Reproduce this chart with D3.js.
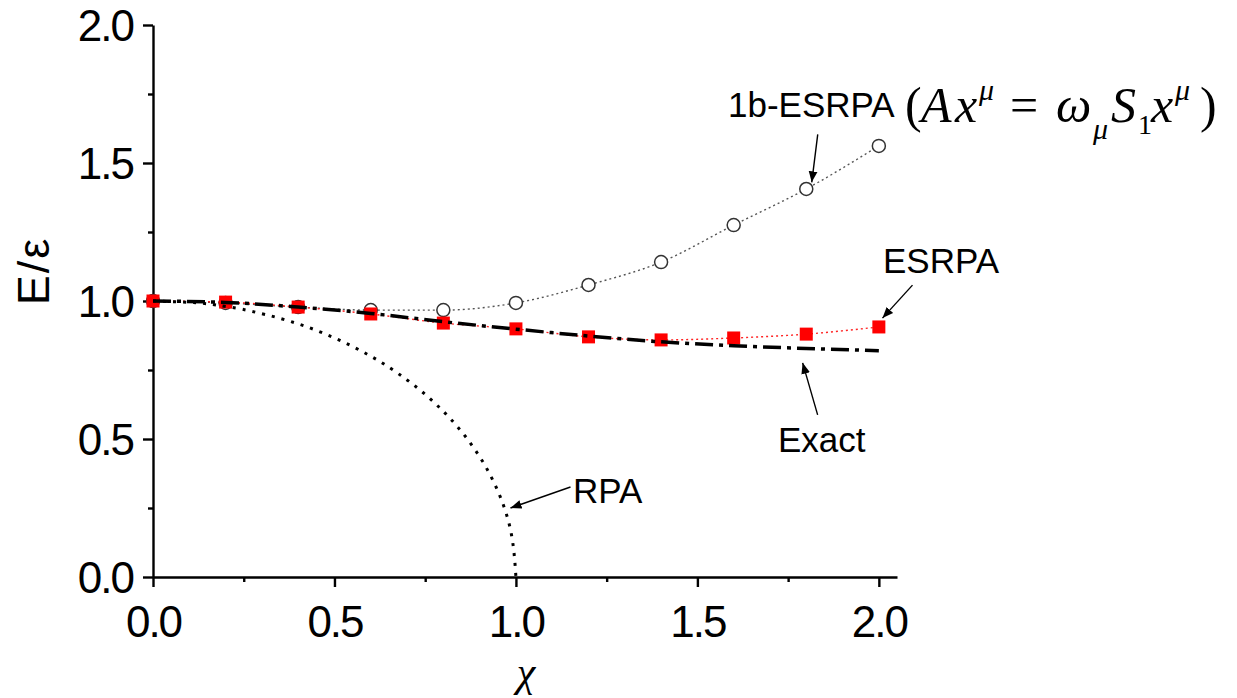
<!DOCTYPE html>
<html>
<head>
<meta charset="utf-8">
<script src="https://cdn.jsdelivr.net/npm/d3@7"></script>
<style>
  body { margin: 0; background: #fff; }
  svg { display: block; }
</style>
</head>
<body>
<div id="chart"></div>
<script>
var chiValues = [0, 0.2, 0.4, 0.6, 0.8, 1.0, 1.2, 1.4, 1.6, 1.8, 2.0];
var esrpaValues = [1.0, 0.996, 0.978, 0.953, 0.920, 0.899, 0.870, 0.859, 0.866, 0.880, 0.906];
var oneBodyValues = [1.0, 0.993, 0.978, 0.967, 0.967, 0.993, 1.058, 1.141, 1.275, 1.406, 1.562];
var exactValues = [1.0, 0.995, 0.978, 0.955, 0.925, 0.898, 0.873, 0.852, 0.838, 0.828, 0.820];
var rpaChi = [0, 0.1, 0.2, 0.3, 0.4, 0.5, 0.6, 0.7, 0.8, 0.85, 0.9, 0.95, 0.98, 1.0];
var rpaValues = [1.0, 0.995, 0.98, 0.954, 0.917, 0.866, 0.80, 0.714, 0.60, 0.527, 0.436, 0.312, 0.199, 0.0];
var xTicks = [0, 0.5, 1.0, 1.5, 2.0];
var xMinor = [0.25, 0.75, 1.25, 1.75];
var yTicks = [0, 0.5, 1.0, 1.5, 2.0];
var yMinor = [0.25, 0.75, 1.25, 1.75];

var width = 1237, height = 698;

var svg = d3.select("#chart").append("svg")
    .attr("width", width)
    .attr("height", height);

var x = d3.scaleLinear().domain([0, 2.05]).range([153, 897]);
var y = d3.scaleLinear().domain([0, 2.0]).range([577, 25]);

var sans = "'Liberation Sans', Arial, sans-serif";
var serif = "'Liberation Serif', 'Times New Roman', serif";

// axes
var xAxis = svg.append("g")
    .attr("transform", "translate(0," + y(0) + ")")
    .call(d3.axisBottom(x).tickValues(xTicks).tickSize(10).tickSizeOuter(0)
        .tickFormat(d3.format(".1f")));
svg.append("g")
    .attr("transform", "translate(0," + y(0) + ")")
    .call(d3.axisBottom(x).tickValues(xMinor).tickSize(5).tickSizeOuter(0).tickFormat(""))
    .select(".domain").remove();

var yAxis = svg.append("g")
    .attr("transform", "translate(" + x(0) + ",0)")
    .call(d3.axisLeft(y).tickValues(yTicks).tickSize(10).tickSizeOuter(0)
        .tickFormat(d3.format(".1f")));
svg.append("g")
    .attr("transform", "translate(" + x(0) + ",0)")
    .call(d3.axisLeft(y).tickValues(yMinor).tickSize(5).tickSizeOuter(0).tickFormat(""))
    .select(".domain").remove();

svg.selectAll(".domain, .tick line")
    .attr("stroke", "#000")
    .attr("stroke-width", 2.4);

xAxis.selectAll(".tick text")
    .attr("y", 0).attr("dy", 0)
    .attr("transform", "translate(0,60)")
    .style("font-family", sans).style("font-size", "44px")
    .style("letter-spacing", "-2px").attr("fill", "#000");
yAxis.selectAll(".tick text")
    .attr("x", -20).attr("dy", "0.36em")
    .style("font-family", sans).style("font-size", "44px")
    .style("letter-spacing", "-2px").attr("fill", "#000");

// axis titles
svg.append("text")
    .attr("transform", "translate(49,271) rotate(-90)")
    .attr("text-anchor", "middle")
    .style("font-family", sans).style("font-size", "45px")
    .style("letter-spacing", "2px")
    .text("E/ε");
svg.append("text")
    .attr("x", 526).attr("y", 686)
    .attr("text-anchor", "middle")
    .style("font-family", serif).style("font-size", "42px").style("font-style", "italic")
    .text("χ");

var pts = function (xs, ys) {
    return xs.map(function (d, i) { return [d, ys[i]]; });
};
var line = d3.line()
    .x(function (d) { return x(d[0]); })
    .y(function (d) { return y(d[1]); });

// 1b-ESRPA
svg.append("path")
    .datum(pts(chiValues, oneBodyValues))
    .attr("d", line.curve(d3.curveMonotoneX))
    .attr("fill", "none").attr("stroke", "#555")
    .attr("stroke-width", 1.4).attr("stroke-dasharray", "2,3");
svg.append("g").selectAll("circle")
    .data(pts(chiValues, oneBodyValues))
    .enter().append("circle")
    .attr("cx", function (d) { return x(d[0]); })
    .attr("cy", function (d) { return y(d[1]); })
    .attr("r", 6.5)
    .attr("fill", "#fff").attr("stroke", "#333").attr("stroke-width", 1.5);

// ESRPA
svg.append("path")
    .datum(pts(chiValues, esrpaValues))
    .attr("d", line.curve(d3.curveMonotoneX))
    .attr("fill", "none").attr("stroke", "#f22")
    .attr("stroke-width", 1.4).attr("stroke-dasharray", "2,3");
svg.append("g").selectAll("rect")
    .data(pts(chiValues, esrpaValues))
    .enter().append("rect")
    .attr("x", function (d) { return x(d[0]) - 6.5; })
    .attr("y", function (d) { return y(d[1]) - 6.5; })
    .attr("width", 13).attr("height", 13)
    .attr("fill", "#f00");

// Exact
svg.append("path")
    .datum(pts(chiValues, exactValues))
    .attr("d", line.curve(d3.curveMonotoneX))
    .attr("fill", "none").attr("stroke", "#000")
    .attr("stroke-width", 3.5).attr("stroke-dasharray", "18,6,4,6");

// RPA
svg.append("path")
    .datum(pts(rpaChi, rpaValues))
    .attr("d", line.curve(d3.curveMonotoneY))
    .attr("fill", "none").attr("stroke", "#000")
    .attr("stroke-width", 3).attr("stroke-dasharray", "3,7");

// annotations
svg.append("defs").append("marker")
    .attr("id", "arrow")
    .attr("viewBox", "0 0 10 10")
    .attr("refX", 10).attr("refY", 5)
    .attr("markerWidth", 11).attr("markerHeight", 11)
    .attr("markerUnits", "userSpaceOnUse")
    .attr("orient", "auto")
    .append("path")
    .attr("d", "M0,1 L10,5 L0,9 Z")
    .attr("fill", "#000");

var notes = [
    { label: "1b-ESRPA", tx: 1.815, ty: 1.43, dx: 6, dy: -48, lx: 728, ly: 117 },
    { label: "ESRPA", tx: 2.01, ty: 0.938, dx: 30, dy: -33, lx: 883, ly: 273 },
    { label: "Exact", tx: 1.79, ty: 0.776, dx: 15, dy: 52, lx: 778, ly: 452 },
    { label: "RPA", tx: 0.985, ty: 0.25, dx: 60, dy: -21, lx: 573, ly: 503 }
];
notes.forEach(function (n) {
    var px = x(n.tx), py = y(n.ty);
    svg.append("line")
        .attr("x1", px + n.dx).attr("y1", py + n.dy)
        .attr("x2", px).attr("y2", py)
        .attr("stroke", "#000").attr("stroke-width", 1.4)
        .attr("marker-end", "url(#arrow)");
    svg.append("text")
        .attr("x", n.lx).attr("y", n.ly)
        .style("font-family", sans).style("font-size", "35px")
        .text(n.label);
});

// equation next to 1b-ESRPA
var eq = svg.append("text")
    .style("font-family", serif);
var parts = [
    { t: "(", x: 905, y: 122, s: 50, i: false },
    { t: "A", x: 921, y: 122, s: 50, i: true },
    { t: "x", x: 955, y: 122, s: 50, i: true },
    { t: "μ", x: 979, y: 100, s: 30, i: true },
    { t: "=", x: 1010, y: 122, s: 50, i: false },
    { t: "ω", x: 1056, y: 122, s: 50, i: true },
    { t: "μ", x: 1093, y: 139, s: 30, i: true },
    { t: "S", x: 1111, y: 122, s: 50, i: true },
    { t: "1", x: 1138, y: 134, s: 28, i: false },
    { t: "x", x: 1151, y: 122, s: 50, i: true },
    { t: "μ", x: 1175, y: 100, s: 30, i: true },
    { t: ")", x: 1200, y: 122, s: 50, i: false }
];
parts.forEach(function (p) {
    eq.append("tspan")
        .attr("x", p.x).attr("y", p.y)
        .style("font-size", p.s + "px")
        .style("font-style", p.i ? "italic" : "normal")
        .text(p.t);
});
</script>
</body>
</html>
